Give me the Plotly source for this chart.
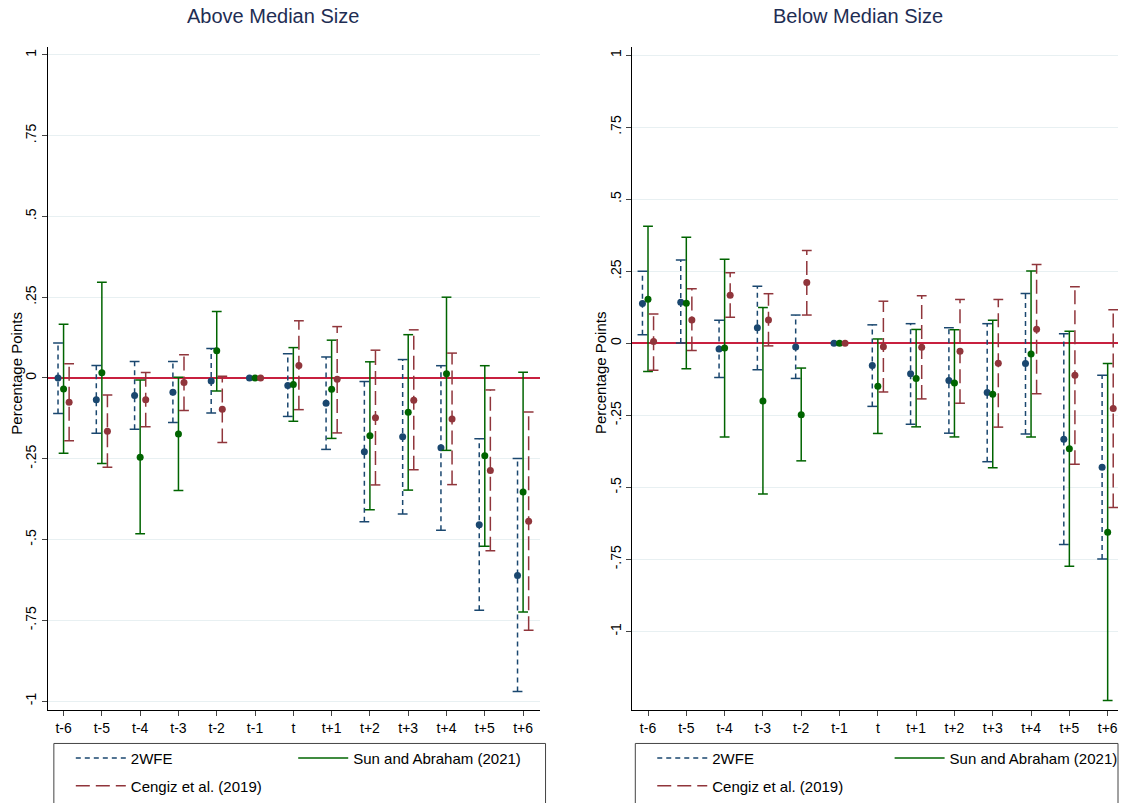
import plotly.graph_objects as go
from plotly.subplots import make_subplots

periods = ['t-6', 't-5', 't-4', 't-3', 't-2', 't-1', 't', 't+1', 't+2', 't+3', 't+4', 't+5', 't+6']
ytick_vals = [1, 0.75, 0.5, 0.25, 0, -0.25, -0.5, -0.75, -1]
ytick_text = ['1', '.75', '.5', '.25', '0', '-.25', '-.5', '-.75', '-1']

# ---- Above Median Size ----
above_2wfe_b = [0.0, -0.067, -0.054, -0.044, -0.009, 0.0, -0.023, -0.078, -0.228, -0.182, -0.216, -0.454, -0.611]
above_2wfe_hi = [0.108, 0.039, 0.051, 0.051, 0.091, None, 0.075, 0.065, -0.011, 0.057, 0.038, -0.188, -0.249]
above_2wfe_lo = [-0.110, -0.171, -0.159, -0.138, -0.108, None, -0.119, -0.221, -0.445, -0.421, -0.471, -0.719, -0.970]

above_sun_b = [-0.034, 0.016, -0.245, -0.173, 0.084, 0.0, -0.020, -0.035, -0.179, -0.106, 0.013, -0.241, -0.353]
above_sun_hi = [0.166, 0.296, -0.006, 0.002, 0.206, None, 0.094, 0.117, 0.050, 0.134, 0.250, 0.038, 0.018]
above_sun_lo = [-0.233, -0.265, -0.482, -0.348, -0.040, None, -0.134, -0.187, -0.408, -0.347, -0.224, -0.521, -0.724]

above_cengiz_b = [-0.075, -0.165, -0.067, -0.014, -0.097, 0.0, 0.039, -0.004, -0.123, -0.069, -0.127, -0.286, -0.443]
above_cengiz_hi = [0.044, -0.053, 0.017, 0.072, 0.005, None, 0.177, 0.159, 0.086, 0.149, 0.077, -0.037, -0.105]
above_cengiz_lo = [-0.194, -0.276, -0.151, -0.101, -0.200, None, -0.098, -0.170, -0.331, -0.284, -0.330, -0.535, -0.781]

# ---- Below Median Size ----
below_2wfe_b = [0.138, 0.142, -0.020, 0.054, -0.013, 0.0, -0.077, -0.106, -0.129, -0.171, -0.070, -0.333, -0.430]
below_2wfe_hi = [0.250, 0.289, 0.080, 0.198, 0.098, None, 0.064, 0.068, 0.054, 0.068, 0.173, 0.033, -0.111]
below_2wfe_lo = [0.030, 0.001, -0.119, -0.092, -0.122, None, -0.219, -0.281, -0.312, -0.411, -0.315, -0.698, -0.749]

below_sun_b = [0.153, 0.139, -0.016, -0.200, -0.248, 0.0, -0.149, -0.122, -0.138, -0.177, -0.037, -0.366, -0.656]
below_sun_hi = [0.406, 0.368, 0.292, 0.124, -0.086, None, 0.015, 0.048, 0.047, 0.080, 0.251, 0.042, -0.070]
below_sun_lo = [-0.098, -0.088, -0.325, -0.523, -0.408, None, -0.313, -0.290, -0.325, -0.432, -0.325, -0.774, -1.240]

below_cengiz_b = [0.006, 0.081, 0.167, 0.081, 0.211, 0.0, -0.012, -0.014, -0.028, -0.069, 0.049, -0.111, -0.226]
below_cengiz_hi = [0.102, 0.189, 0.245, 0.172, 0.322, None, 0.146, 0.165, 0.152, 0.152, 0.273, 0.196, 0.116]
below_cengiz_lo = [-0.094, -0.025, 0.090, -0.009, 0.098, None, -0.169, -0.193, -0.208, -0.291, -0.175, -0.420, -0.570]

series_names = ['2WFE', 'Sun and Abraham (2021)', 'Cengiz et al. (2019)']
colors = ['#1a476f', '#006400', '#90353b']
dashes = ['5px,4px', 'solid', '14px,6px']
offsets = [-0.145, 0.0, 0.145]

FONT = 'Liberation Sans, Arial, sans-serif'

fig = make_subplots(rows=1, cols=2)

panels = [
    (1, [(above_2wfe_b, above_2wfe_lo, above_2wfe_hi),
         (above_sun_b, above_sun_lo, above_sun_hi),
         (above_cengiz_b, above_cengiz_lo, above_cengiz_hi)], ['legend', 'legend2', 'legend3']),
    (2, [(below_2wfe_b, below_2wfe_lo, below_2wfe_hi),
         (below_sun_b, below_sun_lo, below_sun_hi),
         (below_cengiz_b, below_cengiz_lo, below_cengiz_hi)], ['legend4', 'legend5', 'legend6']),
]

for col, series, legs in panels:
    for k, (b, lo, hi) in enumerate(series):
        off = offsets[k]
        xs, ys, cx, cy = [], [], [], []
        for i in range(len(periods)):
            if lo[i] is None or hi[i] is None:
                continue
            xs += [i + off, i + off, None]
            ys += [lo[i], hi[i], None]
            cx += [i + off, i + off]
            cy += [lo[i], hi[i]]
        fig.add_trace(go.Scatter(
            x=xs, y=ys, mode='lines', name=series_names[k],
            line=dict(color=colors[k], width=1.5, dash=dashes[k]),
            legend=legs[k], showlegend=True, hoverinfo='skip'), row=1, col=col)
        fig.add_trace(go.Scatter(
            x=cx, y=cy, mode='markers', showlegend=False, hoverinfo='skip',
            marker=dict(symbol='line-ew', size=7, color=colors[k],
                        line=dict(color=colors[k], width=1.5))), row=1, col=col)
        fig.add_trace(go.Scatter(
            x=[i + off for i in range(len(periods))], y=b, mode='markers',
            showlegend=False,
            marker=dict(symbol='circle', size=7, color=colors[k])), row=1, col=col)

W, H = 1123, 803
def px_x(p):
    return min(1.0, p / W)
def px_y(p):
    return 1 - p / H

ydom = [px_y(716), px_y(47)]
fig.update_layout(
    width=W, height=H,
    margin=dict(l=0, r=0, t=0, b=0),
    plot_bgcolor='white', paper_bgcolor='white',
    font=dict(family=FONT, size=13, color='black'),
    xaxis=dict(domain=[px_x(48), px_x(541)], range=[-0.41, 12.43]),
    xaxis2=dict(domain=[px_x(634), px_x(1121)], range=[-0.41, 12.27]),
    yaxis=dict(domain=ydom, range=[-1.0267, 1.0255]),
    yaxis2=dict(domain=ydom, range=[-1.2718, 1.0296]),
)

for ax in ['xaxis', 'xaxis2']:
    fig.layout[ax].update(
        tickmode='array', tickvals=list(range(len(periods))), ticktext=periods,
        showgrid=False, zeroline=False, showline=True, linecolor='black', linewidth=1,
        ticks='outside', ticklen=5, tickcolor='#444', tickfont=dict(size=14, family=FONT))
for ax in ['yaxis', 'yaxis2']:
    fig.layout[ax].update(
        tickmode='array', tickvals=ytick_vals, ticktext=ytick_text, tickangle=-90,
        showgrid=True, gridcolor='#e8f0f2', gridwidth=1,
        zeroline=True, zerolinecolor='#c8203f', zerolinewidth=1.5,
        showline=True, linecolor='black', linewidth=1,
        ticks='outside', ticklen=5, tickcolor='#444', tickfont=dict(size=14, family=FONT))

# Titles and axis titles
for txt, xp in [('Above Median Size', 274), ('Below Median Size', 860)]:
    fig.add_annotation(text=txt, x=px_x(xp), y=px_y(16), xref='paper', yref='paper',
                       xanchor='center', yanchor='middle', showarrow=False,
                       font=dict(size=20, color='#1e2d53', family=FONT))
for xp in [17, 602]:
    fig.add_annotation(text='Percentage Points', x=px_x(xp), y=px_y(376), xref='paper', yref='paper',
                       xanchor='center', yanchor='middle', showarrow=False, textangle=-90,
                       font=dict(size=15, family=FONT))

# Legend boxes
for x0, x1 in [(54, 547), (637, 1121)]:
    fig.add_shape(type='rect', xref='paper', yref='paper', x0=px_x(x0), x1=px_x(x1),
                  y0=px_y(830), y1=px_y(750), line=dict(color='#444', width=1),
                  fillcolor='rgba(0,0,0,0)')

leg_common = dict(orientation='h', xanchor='left', yanchor='middle', bgcolor='rgba(0,0,0,0)',
                  font=dict(size=15, family=FONT), itemwidth=50,
                  itemclick=False, itemdoubleclick=False)
fig.update_layout(
    legend=dict(x=px_x(71), y=px_y(765), **leg_common),
    legend2=dict(x=px_x(294), y=px_y(765), **leg_common),
    legend3=dict(x=px_x(71), y=px_y(793), **leg_common),
    legend4=dict(x=px_x(654), y=px_y(765), **leg_common),
    legend5=dict(x=px_x(892), y=px_y(765), **leg_common),
    legend6=dict(x=px_x(654), y=px_y(793), **leg_common),
)

fig.write_html('out.html', config={'displayModeBar': False},
               post_script="document.body.style.margin='0';")
